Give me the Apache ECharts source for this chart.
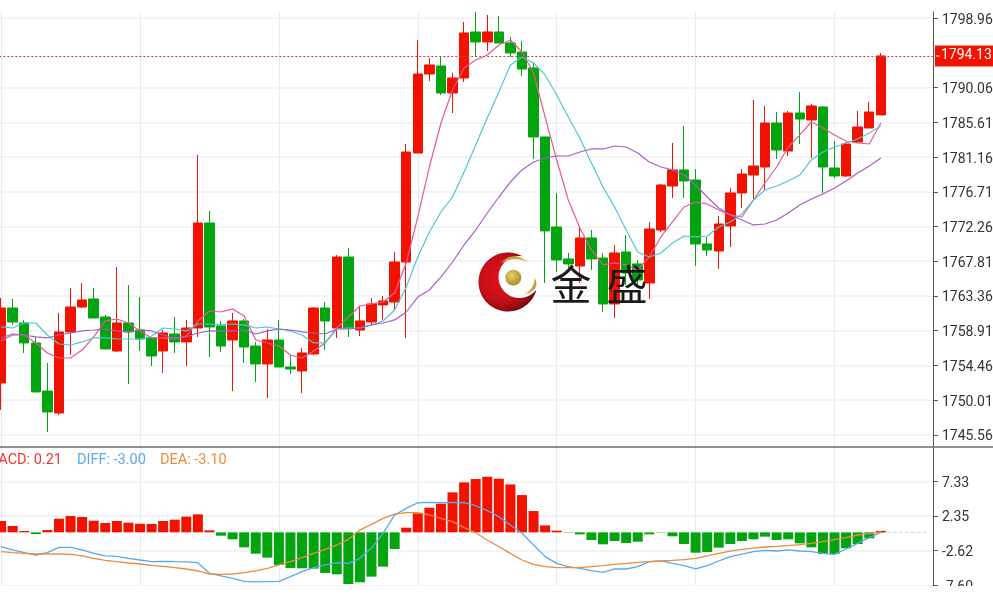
<!DOCTYPE html>
<html><head><meta charset="utf-8">
<style>html,body{margin:0;padding:0;background:#fff}#c{width:993px;height:595px}</style>
<script src="https://cdn.jsdelivr.net/npm/echarts@6/dist/echarts.min.js"></script>
</head><body><div id="c"></div>
<script>
const priceTicks=[1745.56,1750.01,1754.46,1758.91,1763.36,1767.81,1772.26,1776.71,1781.16,1785.61,1790.06,1798.96];
const macdTicks=[-7.60,-2.62,2.35,7.33];
const lastPrice=1794.13;
// [open, close, low, high]
const candles=[
[1752.20,1761.81,1748.74,1763.10],[1761.81,1760.02,1759.64,1762.97],[1759.89,1757.33,1756.05,1760.28],[1757.33,1751.05,1751.05,1758.10],
[1751.17,1748.48,1745.92,1754.76],[1748.35,1758.74,1748.10,1761.17],[1758.74,1761.94,1755.79,1764.38],[1761.94,1762.84,1761.81,1765.02],
[1762.97,1760.53,1760.53,1764.38],[1760.66,1756.56,1756.56,1760.92],[1756.30,1759.89,1756.17,1767.07],[1759.89,1758.74,1752.07,1764.76],
[1758.99,1757.84,1756.30,1763.22],[1757.97,1755.66,1754.38,1757.97],[1756.30,1758.61,1753.48,1758.99],[1758.48,1757.46,1756.05,1760.66],
[1757.46,1759.25,1754.38,1760.28],[1759.25,1772.71,1758.10,1781.43],[1772.71,1759.38,1755.53,1774.25],[1759.51,1756.94,1756.17,1760.15],
[1757.71,1760.15,1751.17,1761.17],[1760.15,1756.81,1754.76,1760.40],[1756.94,1754.64,1752.33,1757.46],[1754.64,1757.71,1750.28,1759.12],
[1757.71,1754.25,1754.25,1760.28],[1754.25,1753.99,1753.35,1755.79],[1753.74,1756.05,1750.92,1756.69],[1755.92,1761.81,1755.79,1761.94],
[1761.81,1760.15,1756.43,1762.58],[1759.25,1768.35,1757.97,1768.61],[1768.35,1759.25,1758.10,1769.51],[1758.99,1760.15,1758.22,1762.07],
[1760.02,1762.33,1759.64,1763.10],[1762.20,1762.71,1760.28,1763.35],[1762.58,1767.71,1761.56,1768.99],[1767.71,1781.81,1757.97,1782.84],
[1781.68,1791.81,1781.68,1796.17],[1791.81,1792.97,1790.92,1793.86],[1792.84,1789.38,1789.12,1793.99],[1789.38,1791.30,1786.81,1791.94],
[1791.30,1797.07,1790.79,1798.48],[1797.20,1795.92,1793.99,1799.76],[1795.92,1797.20,1794.76,1799.38],[1797.20,1795.79,1795.79,1799.25],
[1795.79,1794.51,1793.99,1796.56],[1794.63,1792.45,1791.56,1796.04],[1792.58,1783.74,1780.92,1793.35],[1783.74,1771.69,1765.02,1783.74],
[1772.20,1767.97,1766.43,1776.56],[1768.10,1767.46,1766.94,1768.87],[1767.20,1770.79,1765.02,1772.07],[1770.79,1768.10,1766.69,1771.81],
[1768.22,1762.33,1761.30,1768.87],[1762.33,1768.87,1760.53,1769.89],[1768.99,1766.30,1764.76,1771.17],[1767.46,1765.40,1764.51,1767.97],
[1765.02,1771.94,1762.97,1772.84],[1771.81,1777.58,1771.56,1777.71],[1777.45,1779.51,1775.92,1782.97],[1779.51,1778.10,1775.92,1785.15],
[1778.22,1770.02,1767.20,1779.63],[1770.02,1769.25,1768.48,1770.92],[1769.12,1772.58,1766.81,1773.61],[1772.33,1776.56,1769.63,1777.20],
[1776.56,1778.99,1774.63,1779.63],[1778.86,1780.02,1775.66,1788.48],[1779.89,1785.53,1776.94,1787.71],[1785.53,1782.07,1780.92,1786.94],
[1781.94,1786.81,1781.30,1787.07],[1786.81,1786.04,1782.84,1789.51],[1785.92,1787.71,1781.04,1787.97],[1787.58,1779.89,1776.56,1787.71],
[1779.76,1778.74,1778.48,1783.22],[1778.74,1782.84,1778.61,1783.10],[1783.10,1785.02,1782.97,1787.07],[1784.89,1786.94,1784.89,1788.22],
[1786.56,1794.13,1786.56,1794.51]];
const maPink=[1757.58,1758.35,1758.35,1757.33,1756.05,1755.40,1755.40,1756.43,1758.10,1760.15,1760.40,1759.89,1758.87,1757.97,1757.97,1757.84,1758.22,1760.15,1761.43,1761.30,1761.69,1760.79,1757.71,1757.33,1756.94,1755.79,1755.40,1756.30,1757.33,1759.25,1760.66,1762.07,1762.33,1762.58,1763.74,1767.58,1773.48,1779.89,1785.53,1789.76,1792.58,1793.61,1794.25,1795.53,1796.17,1794.63,1791.94,1786.30,1780.79,1775.66,1772.07,1769.25,1767.33,1767.58,1767.33,1766.69,1768.35,1770.92,1772.84,1774.76,1775.40,1775.15,1774.38,1773.74,1773.48,1775.66,1777.84,1779.89,1782.45,1784.00,1785.66,1784.89,1784.00,1783.22,1782.97,1782.84,1785.53];
const maCyan=[1759.38,1759.25,1759.89,1759.89,1758.35,1757.20,1757.07,1757.46,1757.97,1757.97,1757.84,1757.84,1757.84,1758.22,1759.25,1759.12,1758.87,1759.76,1759.76,1759.64,1759.76,1759.64,1759.25,1759.38,1759.12,1758.87,1758.35,1757.33,1757.33,1759.12,1759.25,1759.25,1759.64,1760.15,1761.56,1764.51,1768.35,1771.56,1774.12,1776.04,1779.25,1782.71,1786.17,1789.51,1792.97,1793.99,1793.22,1791.69,1789.12,1786.30,1783.61,1780.40,1777.33,1774.76,1771.81,1768.99,1768.35,1768.87,1770.15,1771.04,1770.92,1771.04,1772.20,1772.84,1773.87,1775.66,1776.94,1777.45,1778.10,1778.86,1780.79,1781.81,1782.45,1782.97,1783.48,1784.25,1785.15];
const maPurple=[1757.97,1758.48,1758.35,1758.10,1757.97,1758.35,1758.61,1758.87,1758.99,1759.12,1758.87,1758.74,1758.99,1758.87,1758.35,1757.97,1758.10,1758.61,1758.87,1758.87,1758.87,1758.99,1758.48,1758.87,1759.12,1758.99,1758.74,1758.61,1758.48,1759.12,1759.12,1759.25,1759.64,1759.89,1760.28,1761.30,1763.22,1764.12,1765.79,1767.71,1769.89,1771.81,1773.99,1776.04,1777.97,1779.51,1780.53,1781.04,1781.30,1781.30,1781.81,1782.20,1782.20,1782.58,1782.45,1781.68,1780.53,1779.89,1779.51,1778.86,1777.58,1776.04,1774.63,1773.74,1773.10,1772.46,1772.58,1773.10,1773.99,1775.02,1775.79,1776.43,1777.20,1778.10,1779.12,1780.02,1781.04];
const macdBars=[1.63,0.91,0.19,-0.24,0.33,1.96,2.34,2.20,1.67,1.34,1.63,1.39,1.24,1.20,1.63,1.82,2.25,2.58,0.29,-0.48,-1.00,-2.15,-3.06,-3.63,-4.68,-5.11,-5.16,-5.21,-5.83,-6.02,-7.41,-7.17,-6.36,-4.92,-2.39,0.67,2.72,3.54,4.11,5.74,7.17,7.65,7.98,7.70,6.88,5.35,3.06,1.00,0.24,-0.05,-0.29,-1.10,-1.72,-1.24,-1.53,-1.34,-0.29,-0.05,-0.57,-1.67,-2.92,-2.82,-2.20,-1.67,-1.24,-1.00,-0.62,-1.10,-1.00,-1.58,-2.15,-3.11,-3.11,-2.29,-1.67,-0.86,0.21];
const diffLine=[-2.06,-2.53,-2.92,-3.25,-2.92,-2.15,-2.15,-2.53,-3.01,-3.39,-3.44,-3.73,-3.97,-4.21,-4.16,-4.21,-4.25,-4.35,-5.88,-6.26,-6.60,-7.03,-7.12,-7.07,-7.03,-6.36,-5.64,-5.07,-4.68,-4.35,-4.45,-3.73,-2.29,-0.14,2.49,3.44,4.25,4.30,4.25,4.30,4.25,3.82,3.11,2.25,1.05,-0.14,-1.82,-3.49,-4.45,-4.92,-5.16,-5.50,-5.74,-5.26,-5.26,-4.92,-4.21,-4.11,-4.45,-4.78,-5.26,-4.78,-4.11,-3.49,-3.11,-2.77,-2.58,-2.68,-2.53,-2.68,-2.77,-3.01,-3.15,-2.39,-1.58,-0.76,0];
const deaLine=[-2.77,-2.92,-3.01,-3.11,-3.11,-3.11,-3.15,-3.39,-3.73,-4.02,-4.21,-4.40,-4.54,-4.73,-4.88,-5.07,-5.26,-5.54,-5.98,-6.02,-5.98,-5.78,-5.54,-5.16,-4.68,-4.21,-3.63,-3.01,-2.44,-1.82,-1.00,0.33,1.15,2.01,2.63,2.82,2.82,2.49,2.01,1.53,0.67,-0.05,-1.10,-2.06,-3.01,-3.97,-4.59,-4.92,-5.07,-5.07,-5.07,-4.92,-4.78,-4.59,-4.45,-4.30,-4.21,-4.11,-4.02,-3.92,-3.73,-3.39,-3.01,-2.68,-2.44,-2.25,-2.10,-2.01,-1.91,-1.77,-1.58,-1.34,-1.05,-0.76,-0.38,-0.19,0.05];
const macdHeader=[["MACD: 0.21","#f0352a"],["DIFF: -3.00","#5aa9ec"],["DEA: -3.10","#ee8a3c"]];

const RED="#f11200",GREEN="#02a50f",FONT="Roboto, 'Liberation Sans', sans-serif";
const cats=Array.from({length:81},(_,i)=>i);
const tail=cats.map(i=>i>=76?0:"-");
const xAxis=(g)=>({type:"category",gridIndex:g,data:cats,boundaryGap:true,
  axisLine:{show:false},axisTick:{show:false},axisLabel:{show:false},
  splitLine:{show:true,alignWithLabel:true,interval:(i)=>i%12===0,lineStyle:{color:"#e4ebf2",width:1}}});
const yAxis=(g,min,max,ticks)=>({type:"value",gridIndex:g,position:"right",min,max,scale:true,
  axisLine:{show:true,onZero:false,lineStyle:{color:"#555",width:1}},
  axisTick:{show:true,length:5,customValues:ticks,lineStyle:{color:"#555"}},
  axisLabel:{customValues:ticks,showMinLabel:true,showMaxLabel:true,formatter:v=>v.toFixed(2),color:"#333",fontFamily:FONT,fontSize:14,margin:9,verticalAlign:"top",lineHeight:4,hideOverlap:false},
  splitLine:{show:true,customValues:ticks,lineStyle:{color:"#eef0f3",width:1.5}}});
const ma=(data,color)=>({type:"line",data,xAxisIndex:0,yAxisIndex:0,showSymbol:false,silent:true,lineStyle:{color,width:1.2},z:4});
// logo outlines (decorative brand mark, drawn as polygons)
const arc=(cx,cy,r,a0,a1,n)=>Array.from({length:n+1},(_,k)=>{const a=(a0+(a1-a0)*k/n)*Math.PI/180;return [cx+r*Math.cos(a),cy+r*Math.sin(a)];});
const quad=(p,c,q,n)=>Array.from({length:n+1},(_,k)=>{const t=k/n,u=1-t;return [u*u*p[0]+2*u*t*c[0]+t*t*q[0],u*u*p[1]+2*u*t*c[1]+t*t*q[1]];});
const crescent=[...arc(508,282,29.5,-58.4,-342.2,60),...arc(519.5,277,21,40,282,50)];
const goldTop=[...quad([501,263],[512,250],[528,262],16),...quad([528,262],[514,256],[501,263],16)];
const goldRight=[...quad([522,295],[533,292],[535,278],16),...quad([535,278],[541,291],[522,295],16)];
const chart=echarts.init(document.getElementById("c"),null,{renderer:"canvas"});
chart.setOption({
  animation:false,backgroundColor:"#fff",
  grid:[{left:-4.7,right:60.1,top:12,height:434,outerBoundsMode:"none"},{left:-4.7,right:60.1,top:447,height:138.3,outerBoundsMode:"none"}],
  xAxis:[xAxis(0),xAxis(1)],
  yAxis:[yAxis(0,1744.12,1799.76,priceTicks),yAxis(1,-7.60,12.25,macdTicks)],
  series:[
    {type:"candlestick",data:candles,xAxisIndex:0,yAxisIndex:0,barWidth:10,z:3,silent:true,
     itemStyle:{color:RED,color0:GREEN,borderColor:RED,borderColor0:GREEN,borderWidth:1},
     markLine:{silent:true,symbol:"none",animation:false,data:[{yAxis:lastPrice}],
       lineStyle:{color:"#e8323a",type:[2,2],width:1.2},
       label:{position:"end",distance:2,formatter:()=>lastPrice.toFixed(2),color:"#fff",backgroundColor:RED,fontFamily:FONT,fontSize:14,lineHeight:14,padding:[6,2,1,6]}}},
    ma(maPink,"#e8598f"),ma(maCyan,"#4ec6d2"),ma(maPurple,"#a85fc0"),
    {type:"bar",data:macdBars,xAxisIndex:1,yAxisIndex:1,barWidth:10,silent:true,
     itemStyle:{color:p=>p.value>=0?RED:GREEN},z:3},
    {type:"line",data:diffLine,xAxisIndex:1,yAxisIndex:1,showSymbol:false,silent:true,lineStyle:{color:"#5aa9ec",width:1.3},z:4},
    {type:"line",data:deaLine,xAxisIndex:1,yAxisIndex:1,showSymbol:false,silent:true,lineStyle:{color:"#ee8a3c",width:1.3},z:4},
    {type:"line",data:tail,xAxisIndex:1,yAxisIndex:1,showSymbol:false,silent:true,lineStyle:{color:"#c9d2d2",width:1,type:"dashed"},z:2}
  ],
  graphic:[
    {type:"rect",z:50,shape:{x:0,y:586,width:993,height:9},style:{fill:"#fff"}},
    {type:"line",z:51,shape:{x1:0,y1:447,x2:993,y2:447},style:{stroke:"#6b6b6b",lineWidth:1.5}},
    {type:"line",z:60,shape:{x1:936,y1:56,x2:940,y2:56},style:{stroke:"#fff",lineWidth:1}},
    {type:"text",z:51,x:62,y:460,style:{text:macdHeader[0][0],fill:macdHeader[0][1],font:"14.5px "+FONT,textAlign:"right",textVerticalAlign:"middle"}},
    {type:"text",z:51,x:77,y:460,style:{text:macdHeader[1][0],fill:macdHeader[1][1],font:"14.5px "+FONT,textAlign:"left",textVerticalAlign:"middle"}},
    {type:"text",z:51,x:160,y:460,style:{text:macdHeader[2][0],fill:macdHeader[2][1],font:"14.5px "+FONT,textAlign:"left",textVerticalAlign:"middle"}},
    {type:"polygon",z:52,shape:{points:crescent},
      style:{fill:{type:"radial",x:0.42,y:0.45,r:0.6,colorStops:[{offset:0,color:"#e3121c"},{offset:0.65,color:"#c40f18"},{offset:1,color:"#7a0a10"}]}}},
    {type:"polygon",z:52,shape:{points:goldTop},style:{fill:"#c5a23c"}},
    {type:"polygon",z:52,shape:{points:goldRight},style:{fill:"#c5a23c"}},
    {type:"circle",z:52,shape:{cx:513.3,cy:277.7,r:8},style:{fill:{type:"radial",x:0.4,y:0.35,r:0.7,colorStops:[{offset:0,color:"#e6d068"},{offset:1,color:"#a98a22"}]}}},
    {type:"text",z:53,x:571,y:284,style:{text:"金",fill:"#1a1a1a",font:"41px 'Noto Sans CJK SC'",textAlign:"center",textVerticalAlign:"middle"}},
    {type:"text",z:53,x:627,y:284,style:{text:"盛",fill:"#1a1a1a",font:"41px 'Noto Sans CJK SC'",textAlign:"center",textVerticalAlign:"middle"}}
  ]
});
</script></body></html>
